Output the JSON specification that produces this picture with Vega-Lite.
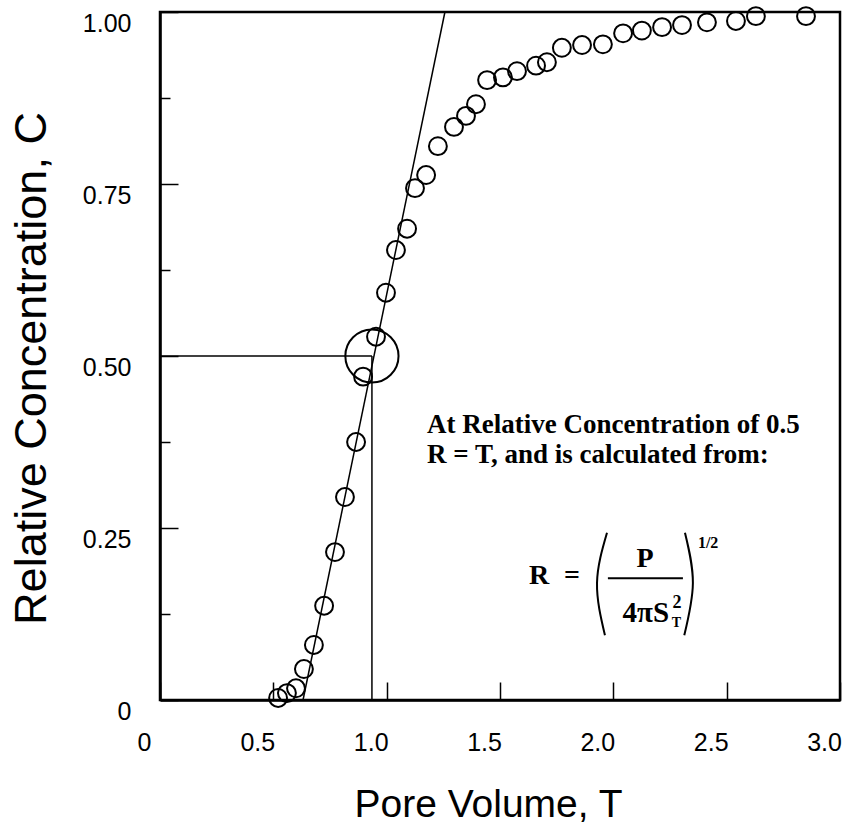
{
  "$schema": "https://vega.github.io/schema/vega-lite/v6.json",
  "width": 680,
  "height": 688,
  "autosize": {"type": "none"},
  "padding": {"left": 160, "top": 12, "right": 9, "bottom": 130},
  "background": "white",
  "config": {
    "view": {"stroke": "black", "strokeWidth": 2.5},
    "axis": {
      "grid": false,
      "domainColor": "black",
      "domainWidth": 2.5,
      "tickColor": "black",
      "tickWidth": 1.5,
      "labelColor": "black",
      "labelFont": "Liberation Sans",
      "labelFontSize": 25,
      "titleFont": "Liberation Sans",
      "titleFontWeight": "normal",
      "titleColor": "black"
    }
  },
  "datasets": {
    "obs": [
      {"T": 0.521, "C": 0.003}, {"T": 0.560, "C": 0.010}, {"T": 0.600, "C": 0.017},
      {"T": 0.635, "C": 0.045}, {"T": 0.679, "C": 0.080}, {"T": 0.724, "C": 0.137},
      {"T": 0.772, "C": 0.215}, {"T": 0.816, "C": 0.295}, {"T": 0.865, "C": 0.375},
      {"T": 0.896, "C": 0.470}, {"T": 0.953, "C": 0.528}, {"T": 0.997, "C": 0.592},
      {"T": 1.041, "C": 0.654}, {"T": 1.090, "C": 0.685}, {"T": 1.125, "C": 0.744},
      {"T": 1.174, "C": 0.763}, {"T": 1.226, "C": 0.805}, {"T": 1.297, "C": 0.833},
      {"T": 1.350, "C": 0.849}, {"T": 1.394, "C": 0.866}, {"T": 1.443, "C": 0.901},
      {"T": 1.513, "C": 0.905}, {"T": 1.575, "C": 0.914}, {"T": 1.659, "C": 0.922},
      {"T": 1.707, "C": 0.927}, {"T": 1.773, "C": 0.948}, {"T": 1.862, "C": 0.952},
      {"T": 1.954, "C": 0.953}, {"T": 2.043, "C": 0.969}, {"T": 2.126, "C": 0.973},
      {"T": 2.215, "C": 0.978}, {"T": 2.303, "C": 0.981}, {"T": 2.413, "C": 0.985},
      {"T": 2.541, "C": 0.987}, {"T": 2.629, "C": 0.994}, {"T": 2.850, "C": 0.994}
    ],
    "fit": [{"T": 0.631, "C": 0}, {"T": 1.257, "C": 1}],
    "guides": [
      {"T": 0, "T2": 0.935, "C": 0.5, "C2": 0.5},
      {"T": 0.935, "T2": 0.935, "C": 0.5, "C2": 0}
    ],
    "mark50": [{"T": 0.935, "C": 0.5}],
    "note": [
      {"T": 1.178, "C": 0.388, "text": "At Relative Concentration of 0.5"},
      {"T": 1.178, "C": 0.344, "text": "R = T, and is calculated from:"}
    ],
    "formulaCenter": [
      {"T": 1.672, "C": 0.169, "text": "R"},
      {"T": 1.818, "C": 0.169, "text": "="},
      {"T": 2.140, "C": 0.193, "text": "P"}
    ],
    "formulaRight": [
      {"T": 2.246, "C": 0.113, "text": "4πS"}
    ],
    "sup2": [{"T": 2.281, "C": 0.134, "text": "2"}],
    "subT": [{"T": 2.278, "C": 0.106, "text": "T"}],
    "half": [{"T": 2.373, "C": 0.221, "text": "1/2"}],
    "frac": [{"T": 1.976, "T2": 2.307, "C": 0.177}],
    "parens": [
      {"side": "L", "k": 1, "T": 1.972, "C": 0.243},
      {"side": "L", "k": 2, "T": 1.928, "C": 0.170},
      {"side": "L", "k": 3, "T": 1.963, "C": 0.094},
      {"side": "R", "k": 1, "T": 2.316, "C": 0.243},
      {"side": "R", "k": 2, "T": 2.351, "C": 0.170},
      {"side": "R", "k": 3, "T": 2.313, "C": 0.094}
    ]
  },
  "layer": [
    {
      "data": {"name": "obs"},
      "mark": {"type": "point", "shape": "circle", "filled": false, "size": 320, "strokeWidth": 2, "color": "black", "opacity": 1},
      "encoding": {
        "x": {
          "field": "T", "type": "quantitative",
          "scale": {"domain": [0, 3], "nice": false, "zero": false},
          "axis": {
            "title": "Pore Volume, T",
            "titleFontSize": 39,
            "titlePadding": 30,
            "titleX": 328,
            "values": [0, 0.5, 1, 1.5, 2, 2.5, 3],
            "labelExpr": "datum.value == 0 ? '0' : format(datum.value, '.1f')",
            "tickSize": -18,
            "labelPadding": 48,
            "labelOffset": -16,
            "labelFlush": false,
            "labelOverlap": false
          }
        },
        "y": {
          "field": "C", "type": "quantitative",
          "scale": {"domain": [0, 1], "nice": false, "zero": false},
          "axis": {
            "title": "Relative Concentration, C",
            "titleFontSize": 45,
            "titlePadding": 28,
            "titleY": 356,
            "values": [0, 0.125, 0.25, 0.375, 0.5, 0.625, 0.75, 0.875, 1],
            "labelExpr": "datum.value == 0 ? '0' : (datum.value * 4 % 1 == 0 ? format(datum.value, '.2f') : '')",
            "tickSize": {"condition": {"test": "datum.value * 4 % 1 != 0", "value": -10}, "value": -18},
            "labelPadding": 47,
            "labelOffset": 11,
            "labelFlush": false,
            "labelOverlap": false
          }
        }
      }
    },
    {
      "data": {"name": "fit"},
      "mark": {"type": "line", "color": "black", "strokeWidth": 1.5},
      "encoding": {
        "x": {"field": "T", "type": "quantitative"},
        "y": {"field": "C", "type": "quantitative"}
      }
    },
    {
      "data": {"name": "guides"},
      "mark": {"type": "rule", "color": "black", "strokeWidth": 1.5},
      "encoding": {
        "x": {"field": "T", "type": "quantitative"},
        "x2": {"field": "T2"},
        "y": {"field": "C", "type": "quantitative"},
        "y2": {"field": "C2"}
      }
    },
    {
      "data": {"name": "mark50"},
      "mark": {"type": "point", "shape": "circle", "filled": false, "size": 2830, "strokeWidth": 2, "color": "black", "opacity": 1},
      "encoding": {
        "x": {"field": "T", "type": "quantitative"},
        "y": {"field": "C", "type": "quantitative"}
      }
    },
    {
      "data": {"name": "note"},
      "mark": {"type": "text", "font": "Liberation Serif", "fontWeight": "bold", "fontSize": 27, "align": "left", "baseline": "alphabetic", "color": "black"},
      "encoding": {
        "x": {"field": "T", "type": "quantitative"},
        "y": {"field": "C", "type": "quantitative"},
        "text": {"field": "text"}
      }
    },
    {
      "data": {"name": "formulaCenter"},
      "mark": {"type": "text", "font": "Liberation Serif", "fontWeight": "bold", "fontSize": 28, "align": "center", "baseline": "alphabetic", "color": "black"},
      "encoding": {
        "x": {"field": "T", "type": "quantitative"},
        "y": {"field": "C", "type": "quantitative"},
        "text": {"field": "text"}
      }
    },
    {
      "data": {"name": "formulaRight"},
      "mark": {"type": "text", "font": "Liberation Serif", "fontWeight": "bold", "fontSize": 29, "align": "right", "baseline": "alphabetic", "color": "black"},
      "encoding": {
        "x": {"field": "T", "type": "quantitative"},
        "y": {"field": "C", "type": "quantitative"},
        "text": {"field": "text"}
      }
    },
    {
      "data": {"name": "sup2"},
      "mark": {"type": "text", "font": "Liberation Serif", "fontWeight": "bold", "fontSize": 18, "align": "center", "baseline": "alphabetic", "color": "black"},
      "encoding": {
        "x": {"field": "T", "type": "quantitative"},
        "y": {"field": "C", "type": "quantitative"},
        "text": {"field": "text"}
      }
    },
    {
      "data": {"name": "subT"},
      "mark": {"type": "text", "font": "Liberation Serif", "fontWeight": "bold", "fontSize": 14, "align": "center", "baseline": "alphabetic", "color": "black"},
      "encoding": {
        "x": {"field": "T", "type": "quantitative"},
        "y": {"field": "C", "type": "quantitative"},
        "text": {"field": "text"}
      }
    },
    {
      "data": {"name": "half"},
      "mark": {"type": "text", "font": "Liberation Serif", "fontWeight": "bold", "fontSize": 16, "align": "left", "baseline": "alphabetic", "color": "black"},
      "encoding": {
        "x": {"field": "T", "type": "quantitative"},
        "y": {"field": "C", "type": "quantitative"},
        "text": {"field": "text"}
      }
    },
    {
      "data": {"name": "frac"},
      "mark": {"type": "rule", "color": "black", "strokeWidth": 2},
      "encoding": {
        "x": {"field": "T", "type": "quantitative"},
        "x2": {"field": "T2"},
        "y": {"field": "C", "type": "quantitative"}
      }
    },
    {
      "data": {"name": "parens"},
      "mark": {"type": "line", "color": "black", "strokeWidth": 2, "interpolate": "natural"},
      "encoding": {
        "x": {"field": "T", "type": "quantitative"},
        "y": {"field": "C", "type": "quantitative"},
        "detail": {"field": "side"},
        "order": {"field": "k"}
      }
    }
  ]
}
